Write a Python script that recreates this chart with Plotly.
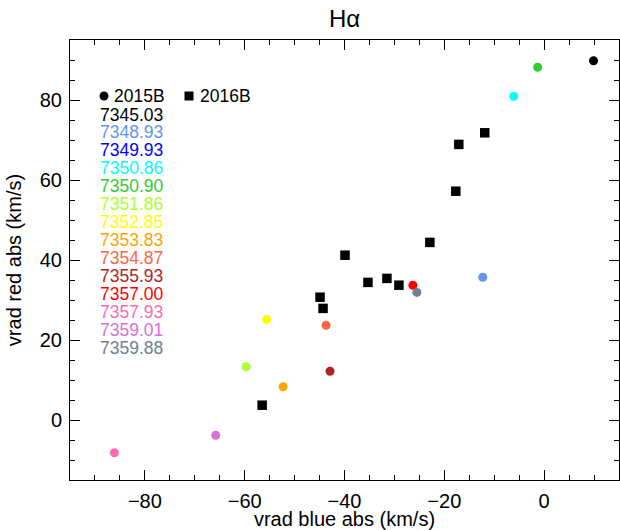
import plotly.graph_objects as go

# ---- data ----
dates_2015B = ["7345.03", "7348.93", "7349.93", "7350.86", "7350.90", "7351.86", "7352.85",
               "7353.83", "7354.87", "7355.93", "7357.00", "7357.93", "7359.01", "7359.88"]
colors_2015B = ["#000000", "#6495ED", "#0000FF", "#00FFFF", "#32CD32", "#ADFF2F", "#FFFF00",
                "#FFA500", "#FF6347", "#B22222", "#FF0000", "#FF69B4", "#DA70D6", "#708090"]
vblue_2015B = [9.9, -12.3, None, -6.1, -1.3, -59.7, -55.6, -52.3, -43.7, -42.9, -26.3, -86.1, -65.8, -25.5]
vred_2015B = [89.8, 35.7, None, 80.9, 88.2, 13.3, 25.1, 8.3, 23.7, 12.2, 33.7, -8.2, -3.8, 31.9]

vblue_2016B = [-11.9, -17.1, -17.7, -22.9, -39.9, -35.3, -31.5, -29.1, -44.9, -44.3, -56.5]
vred_2016B = [71.8, 68.9, 57.2, 44.4, 41.2, 34.4, 35.4, 33.7, 30.7, 27.9, 3.7]

x_ticks = [-80, -60, -40, -20, 0]
y_ticks = [0, 20, 40, 60, 80]

FONT = "Liberation Sans, Arial, sans-serif"
W, H = 620, 530
ML, MR, MT, MB = 70, 1, 40, 50
PW, PH = W - ML - MR, H - MT - MB


def px(x):
    return (x - ML) / PW


def py(y):
    return (H - MB - y) / PH


fig = go.Figure()
fig.add_trace(go.Scatter(
    x=vblue_2016B, y=vred_2016B, mode="markers", name="2016B",
    marker=dict(symbol="square", size=9.5, color="black", line=dict(width=0)),
    showlegend=False))
fig.add_trace(go.Scatter(
    x=vblue_2015B, y=vred_2015B, mode="markers", name="2015B",
    marker=dict(symbol="circle", size=9, color=colors_2015B, line=dict(width=0)),
    showlegend=False))

annotations = []
shapes = []
# legend header
shapes.append(dict(type="circle", xref="paper", yref="paper", xsizemode="pixel", ysizemode="pixel",
                   xanchor=px(104), yanchor=py(96), x0=-4.5, x1=4.5, y0=-4.5, y1=4.5,
                   fillcolor="black", line=dict(width=0)))
shapes.append(dict(type="rect", xref="paper", yref="paper", xsizemode="pixel", ysizemode="pixel",
                   xanchor=px(189), yanchor=py(96), x0=-4.5, x1=4.5, y0=-4.5, y1=4.5,
                   fillcolor="black", line=dict(width=0)))
annotations.append(dict(text="2015B", xref="paper", yref="paper", x=px(112), y=py(95),
                        xanchor="left", yanchor="middle", showarrow=False, height=17,
                        font=dict(family=FONT, size=17.5, color="black")))
annotations.append(dict(text="2016B", xref="paper", yref="paper", x=px(198), y=py(95),
                        xanchor="left", yanchor="middle", showarrow=False, height=17,
                        font=dict(family=FONT, size=17.5, color="black")))
for i, (d, c) in enumerate(zip(dates_2015B, colors_2015B)):
    annotations.append(dict(text=d, xref="paper", yref="paper", x=px(98), y=py(114 + 17.95 * i),
                            xanchor="left", yanchor="middle", showarrow=False, height=17,
                            font=dict(family=FONT, size=17.5, color=c)))

axis_common = dict(
    showgrid=False, zeroline=False, showline=True, linecolor="black", linewidth=1,
    mirror="allticks", ticks="inside", ticklen=10, tickwidth=1, tickcolor="black",
    tickfont=dict(family=FONT, size=20, color="black"),
    minor=dict(ticks="inside", ticklen=5, tickwidth=1, tickcolor="black", dtick=5, showgrid=False),
    automargin=False,
)

fig.update_xaxes(range=[-95, 15], tickmode="array", tickvals=x_ticks,
                 title=dict(text="vrad blue abs (km/s)", font=dict(family=FONT, size=20, color="black"), standoff=2),
                 ticklabelstandoff=3, **axis_common)
fig.update_yaxes(range=[-15, 95], tickmode="array", tickvals=y_ticks,
                 title=dict(text="vrad red abs (km/s)", font=dict(family=FONT, size=20, color="black"), standoff=12),
                 ticklabelstandoff=3, **axis_common)

fig.update_layout(
    width=W, height=H,
    margin=dict(l=ML, r=MR, t=MT, b=MB),
    paper_bgcolor="white", plot_bgcolor="white",
    title=dict(text="Hα", x=0.5, xref="paper", xanchor="center", y=1 - 19 / H, yref="container",
               yanchor="middle", font=dict(family=FONT, size=24, color="black")),
    annotations=annotations, shapes=shapes,
    showlegend=False,
)

fig.write_html("out.html")
